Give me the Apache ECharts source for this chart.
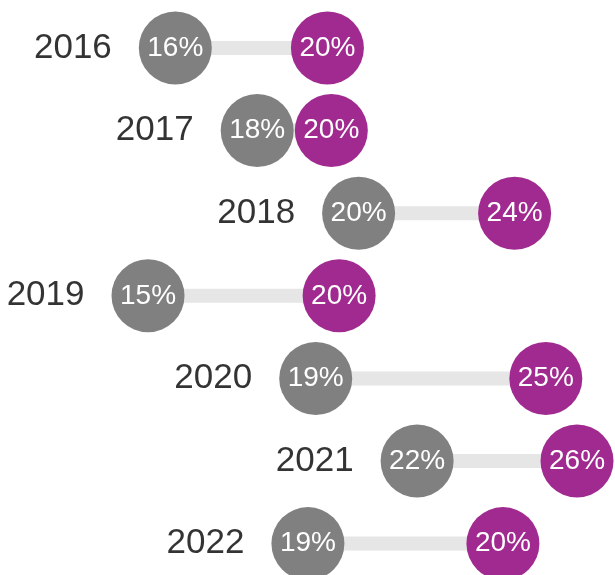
<!DOCTYPE html>
<html>
<head>
<meta charset="utf-8">
<script src="https://cdn.jsdelivr.net/npm/echarts@6/dist/echarts.min.js"></script>
<style>
html,body{margin:0;padding:0;background:#fff;}
#chart{width:615px;height:575px;}
</style>
</head>
<body>
<div id="chart"></div>
<script>
var years = ['2016', '2017', '2018', '2019', '2020', '2021', '2022'];
var startValues = [15.7, 17.8, 20.4, 15.0, 19.3, 21.9, 19.1];
var endValues = [19.6, 19.7, 24.4, 19.9, 25.2, 26.0, 24.1];
var startLabels = ['16%', '18%', '20%', '15%', '19%', '22%', '19%'];
var endLabels = ['20%', '20%', '24%', '20%', '25%', '26%', '20%'];

var FONT = 'Liberation Sans, Helvetica, Arial, sans-serif';
var GRAY = '#808080';
var PURPLE = '#a12a90';

var connectorData = years.map(function (y, i) { return [startValues[i], endValues[i], i]; });
var startData = years.map(function (y, i) { return [startValues[i], i]; });
var endData = years.map(function (y, i) { return [endValues[i], i]; });

var chart = echarts.init(document.getElementById('chart'), null, { renderer: 'canvas' });
chart.setOption({
  animation: false,
  backgroundColor: '#ffffff',
  grid: { left: 0, right: 0, top: 0, bottom: 0, containLabel: false },
  xAxis: {
    type: 'value', min: 11.205, max: 26.974,
    show: false
  },
  yAxis: {
    type: 'value', min: -0.581, max: 6.38, inverse: true,
    show: false
  },
  series: [
    {
      type: 'custom',
      clip: false,
      data: connectorData,
      renderItem: function (params, api) {
        var a = api.coord([api.value(0), api.value(2)]);
        var b = api.coord([api.value(1), api.value(2)]);
        return {
          type: 'line',
          shape: { x1: a[0], y1: a[1], x2: b[0], y2: b[1] },
          style: { stroke: '#e6e6e6', lineWidth: 14 }
        };
      },
      z: 1
    },
    {
      type: 'scatter',
      clip: false,
      symbol: 'circle',
      symbolSize: 73,
      data: startData,
      itemStyle: { color: GRAY, opacity: 1 },
      label: {
        show: true, position: 'inside', color: '#ffffff',
        fontFamily: FONT, fontSize: 28,
        formatter: function (p) { return startLabels[p.dataIndex]; }
      },
      z: 3
    },
    {
      type: 'scatter',
      clip: false,
      symbol: 'circle',
      symbolSize: 73,
      data: startData,
      itemStyle: { color: 'rgba(0,0,0,0)' },
      label: {
        show: true, position: 'left', distance: 27, color: '#000000',
        fontFamily: FONT, fontSize: 35,
        padding: [8, 0, 0, 0],
        formatter: function (p) { return years[p.dataIndex]; }
      },
      silent: true,
      z: 2
    },
    {
      type: 'scatter',
      clip: false,
      symbol: 'circle',
      symbolSize: 73,
      data: endData,
      itemStyle: { color: PURPLE, opacity: 1 },
      label: {
        show: true, position: 'inside', color: '#ffffff',
        fontFamily: FONT, fontSize: 28,
        formatter: function (p) { return endLabels[p.dataIndex]; }
      },
      z: 4
    }
  ]
});
</script>
</body>
</html>
